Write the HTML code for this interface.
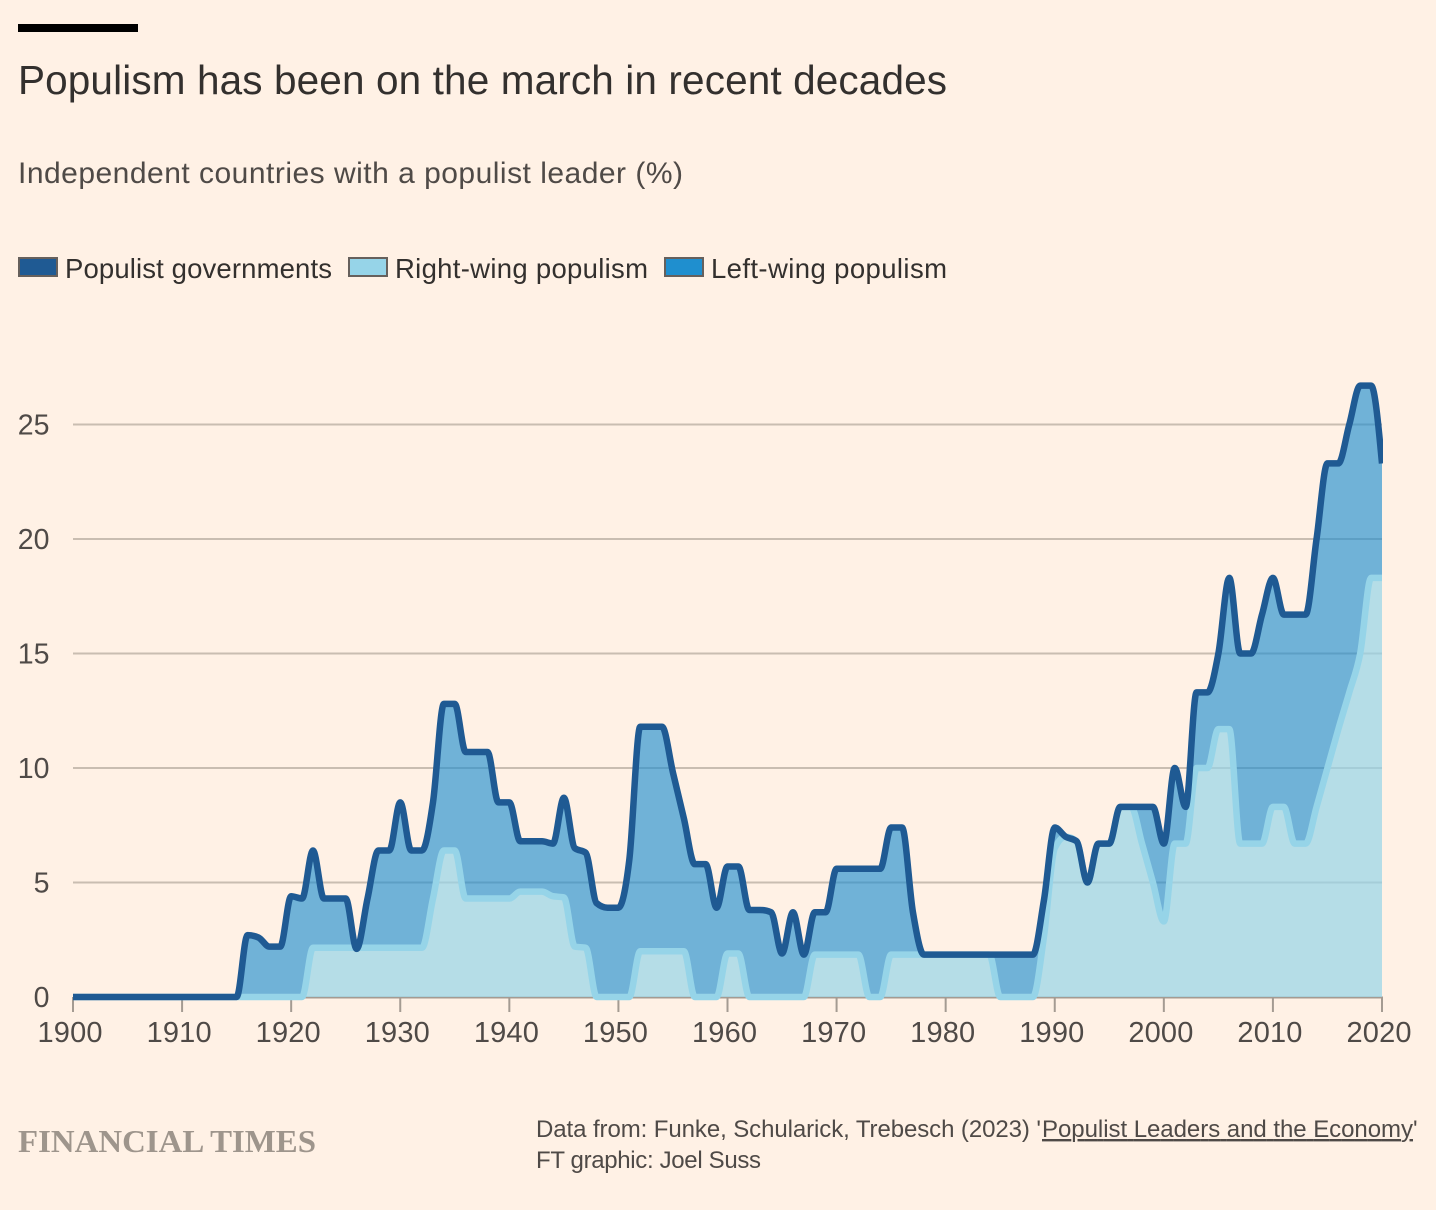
<!DOCTYPE html>
<html lang="en">
<head>
<meta charset="utf-8">
<title>Populism has been on the march in recent decades</title>
<style>
html,body{margin:0;padding:0;background:#fff1e5;}
svg{display:block;font-family:"Liberation Sans",sans-serif;}
</style>
</head>
<body>
<svg id="chart" xmlns="http://www.w3.org/2000/svg" width="1436" height="1210" viewBox="0 0 1436 1210">
  <rect x="0" y="0" width="1436" height="1210" fill="#fff1e5"/>
  <rect x="18" y="24" width="120" height="8" fill="#000"/>
  <text x="18" y="94" font-size="40.5" fill="#33302e" textLength="929" lengthAdjust="spacing">Populism has been on the march in recent decades</text>
  <text x="18" y="183" font-size="30" fill="#4f4a47" textLength="665" lengthAdjust="spacing">Independent countries with a populist leader (%)</text>

  <g>
    <rect x="19" y="258" width="38" height="18" fill="#1f5a93" stroke="#66605c" stroke-width="2"/>
    <text x="65" y="278" font-size="27.5" fill="#33302e" textLength="267" lengthAdjust="spacing">Populist governments</text>
    <rect x="349" y="258" width="38" height="18" fill="#96d4e8" stroke="#66605c" stroke-width="2"/>
    <text x="395" y="278" font-size="27.5" fill="#33302e" textLength="253" lengthAdjust="spacing">Right-wing populism</text>
    <rect x="665" y="258" width="38" height="18" fill="#1f8fcf" stroke="#66605c" stroke-width="2"/>
    <text x="711" y="278" font-size="27.5" fill="#33302e" textLength="236" lengthAdjust="spacing">Left-wing populism</text>
  </g>

  <defs>
    <clipPath id="plot-clip"><rect x="73" y="340" width="1310" height="680"/></clipPath>
  </defs>
  <g id="grid"></g>
  <g id="y-labels"></g>
  <g id="x-axis"></g>
  <g id="marks" clip-path="url(#plot-clip)"></g>

  <text x="18" y="1152" font-family="'Liberation Serif',serif" font-weight="bold" font-size="32" fill="#9e958c" textLength="298" lengthAdjust="spacingAndGlyphs">FINANCIAL TIMES</text>
  <text x="536" y="1137" font-size="24" fill="#4f4a47" textLength="505" lengthAdjust="spacing">Data from: Funke, Schularick, Trebesch (2023) '</text>
  <text x="1042" y="1137" font-size="24" fill="#4f4a47" text-decoration="underline" textLength="371" lengthAdjust="spacing">Populist Leaders and the Economy</text>
  <text x="1413" y="1137" font-size="24" fill="#4f4a47">'</text>
  <text x="536" y="1168" font-size="24" fill="#4f4a47" textLength="225" lengthAdjust="spacing">FT graphic: Joel Suss</text>
</svg>

<script>
const years = [];
for (let y = 1900; y <= 2020; y++) years.push(y);

const populistGovernments = [
  0,0,0,0,0,0,0,0,0,0,
  0,0,0,0,0,0,2.7,2.6,2.2,2.2,
  4.4,4.3,6.4,4.3,4.3,4.3,2.1,4.3,6.4,6.4,
  8.5,6.4,6.4,8.5,12.8,12.8,10.7,10.7,10.7,8.5,
  8.5,6.8,6.8,6.8,6.7,8.7,6.5,6.3,4.1,3.9,
  3.9,6,11.8,11.8,11.8,9.8,7.8,5.8,5.8,3.9,
  5.7,5.7,3.8,3.8,3.7,1.9,3.7,1.85,3.7,3.7,
  5.6,5.6,5.6,5.6,5.6,7.4,7.4,3.7,1.85,1.85,
  1.85,1.85,1.85,1.85,1.85,1.85,1.85,1.85,1.85,4.2,
  7.4,7,6.8,5,6.7,6.7,8.3,8.3,8.3,8.3,
  6.7,10,8.3,13.3,13.3,15,18.3,15,15,16.7,
  18.3,16.7,16.7,16.7,20,23.3,23.3,25,26.7,26.7,
  23.3
];
const rightWing = [
  0,0,0,0,0,0,0,0,0,0,
  0,0,0,0,0,0,0,0,0,0,
  0,0,2.15,2.15,2.15,2.15,2.15,2.15,2.15,2.15,
  2.15,2.15,2.15,4.3,6.4,6.4,4.3,4.3,4.3,4.3,
  4.3,4.6,4.6,4.6,4.4,4.35,2.2,2.15,0,0,
  0,0,2,2,2,2,2,0,0,0,
  1.9,1.9,0,0,0,0,0,0,1.85,1.85,
  1.85,1.85,1.85,0,0,1.85,1.85,1.85,1.85,1.85,
  1.85,1.85,1.85,1.85,1.85,0,0,0,0,2.6,
  6.5,7,6.8,5,6.7,6.7,8.3,8.3,6.7,5,
  3.3,6.7,6.7,10,10,11.7,11.7,6.7,6.7,6.7,
  8.3,8.3,6.7,6.7,8.3,10,11.7,13.3,15,18.3,
  18.3
];
const yTickValues = [0,5,10,15,20,25];
const xTickYears = [1900,1910,1920,1930,1940,1950,1960,1970,1980,1990,2000,2010,2020];

const NS = 'http://www.w3.org/2000/svg';
function xScale(year){ return 73 + (year - 1900) * (1382 - 73) / 120; }
function yScale(val){ return 997 - val * 22.9; }

function mk(tag, parent, attrs){
  const e = document.createElementNS(NS, tag);
  for (const k in attrs) e.setAttribute(k, attrs[k]);
  parent.appendChild(e);
  return e;
}

/* monotone-x cubic tangents */
function tangents(px, py){
  const n = px.length, d = [], t = [];
  for (let i = 0; i < n - 1; i++) d.push((py[i+1]-py[i])/(px[i+1]-px[i]));
  for (let i = 1; i < n - 1; i++){
    const h0 = px[i]-px[i-1], h1 = px[i+1]-px[i];
    const p = (d[i-1]*h1 + d[i]*h0)/(h0+h1);
    const s = (Math.sign(d[i-1]) + Math.sign(d[i])) * Math.min(Math.abs(d[i-1]), Math.abs(d[i]), 0.5*Math.abs(p));
    t[i] = s || 0;
  }
  t[0] = (3*d[0] - t[1]) / 2;
  t[n-1] = (3*d[n-2] - t[n-2]) / 2;
  return t;
}
function curve(px, py){
  const t = tangents(px, py);
  let s = '';
  for (let i = 0; i < px.length - 1; i++){
    const h = (px[i+1]-px[i])/3;
    s += 'C' + (px[i]+h).toFixed(2) + ',' + (py[i]+h*t[i]).toFixed(2) + ' ' +
         (px[i+1]-h).toFixed(2) + ',' + (py[i+1]-h*t[i+1]).toFixed(2) + ' ' +
         px[i+1].toFixed(2) + ',' + py[i+1].toFixed(2);
  }
  return s;
}
function linePath(vals){
  const px = years.map(xScale), py = vals.map(yScale);
  return 'M' + px[0].toFixed(2) + ',' + py[0].toFixed(2) + curve(px, py);
}
function bandPath(upper, lower){
  const px = years.map(xScale), pu = upper.map(yScale), pl = lower.map(yScale);
  const rx = px.slice().reverse(), rl = pl.slice().reverse();
  return 'M' + px[0].toFixed(2) + ',' + pu[0].toFixed(2) + curve(px, pu) +
         'L' + rx[0].toFixed(2) + ',' + rl[0].toFixed(2) + curve(rx, rl) + 'Z';
}

/* gridlines and y labels */
const grid = document.getElementById('grid');
const yLabels = document.getElementById('y-labels');
yTickValues.forEach(function(v){
  if (v !== 0){
    const g = mk('line', grid, {x1:73, x2:1382, y1:yScale(v), y2:yScale(v), stroke:'#c9bdb1', 'stroke-width':2});
    
    
  }
  const t = mk('text', yLabels, {x:49.5, y:yScale(v)+10, 'text-anchor':'end', 'font-size':28.5, fill:'#4f4a47'});
  t.textContent = String(v);
  
  
});

/* x axis */
const xAxis = document.getElementById('x-axis');
const baseline = mk('line', xAxis, {x1:73, x2:1383, y1:997.5, y2:997.5, stroke:'#a49b92', 'stroke-width':2});


xTickYears.forEach(function(yr){
  const tk = mk('line', xAxis, {x1:xScale(yr), x2:xScale(yr), y1:997, y2:1012, stroke:'#a49b92', 'stroke-width':2});
  
  
  const t = mk('text', xAxis, {x:xScale(yr)-3, y:1042, 'text-anchor':'middle', 'font-size':29, fill:'#4f4a47', textLength:65, lengthAdjust:'spacing'});
  t.textContent = String(yr);
  
  
});

/* series */
const marks = document.getElementById('marks');
const leftArea = mk('path', marks, {d:bandPath(populistGovernments, rightWing), fill:'#1f8fcf', 'fill-opacity':0.64, stroke:'none'});


const rightArea = mk('path', marks, {d:linePath(rightWing) + 'L1382,997L73,997Z', fill:'#96d4e8', 'fill-opacity':0.7, stroke:'none'});


const rightLine = mk('path', marks, {d:linePath(rightWing), fill:'none', stroke:'#96d4e8', 'stroke-width':6.5, 'stroke-linejoin':'round'});


const popLine = mk('path', marks, {d:linePath(populistGovernments), fill:'none', stroke:'#1f5a93', 'stroke-width':6.5, 'stroke-linejoin':'round'});


</script>
</body>
</html>
